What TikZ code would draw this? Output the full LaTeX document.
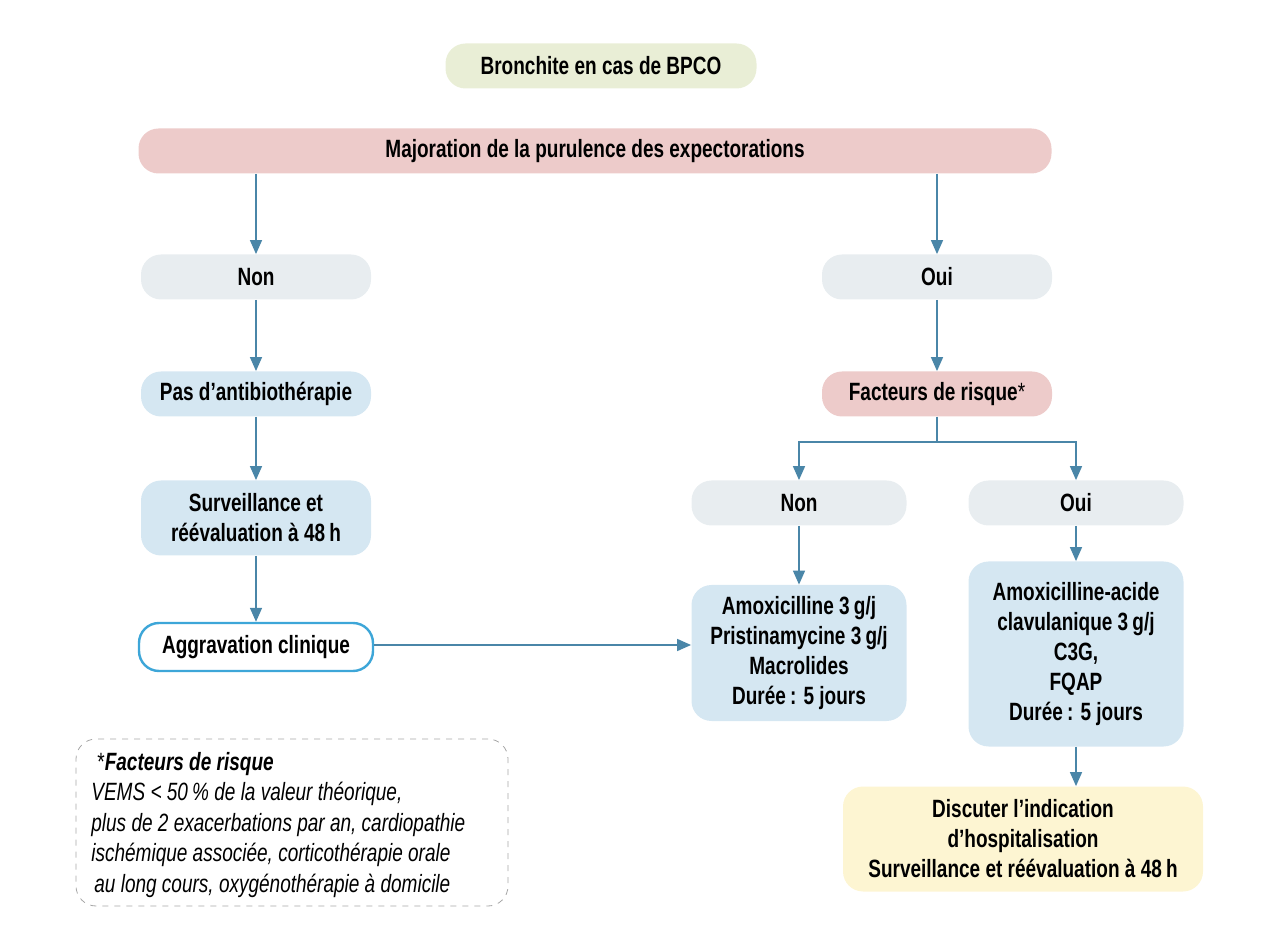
\documentclass[tikz,border=0pt]{standalone}
\usepackage{fontspec}
\setmainfont{Liberation Sans}[FakeStretch=0.76]
\usepackage{tikz}
\usetikzlibrary{arrows.meta,positioning}

\definecolor{flecheC}{HTML}{4A86A8}
\definecolor{vertC}{HTML}{E9EED6}
\definecolor{roseC}{HTML}{EDCBCA}
\definecolor{grisC}{HTML}{E8EDF0}
\definecolor{bleuC}{HTML}{D5E7F2}
\definecolor{jauneC}{HTML}{FDF5D2}
\definecolor{bordC}{HTML}{3DA6D8}

\begin{document}
\begin{tikzpicture}[x=0.5pt,y=-0.5pt,on grid,
    >={Triangle[length=7pt,width=6pt]},
    boite/.style={rounded corners=10pt,align=center,font=\bfseries\fontsize{12.5}{15}\selectfont,
                  minimum height=22.5pt,inner sep=0pt},
    titre/.style={boite,fill=vertC,minimum width=155.5pt},
    rose/.style={boite,fill=roseC},
    gris/.style={boite,fill=grisC},
    bleu/.style={boite,fill=bleuC},
    alerte/.style={boite,fill=white,draw=bordC,line width=1.2pt,minimum width=117pt,minimum height=24pt},
    fleche/.style={->,draw=flecheC,line width=0.75pt}]
  \useasboundingbox (0,0) rectangle (1280,951);

  \node[titre] (titre) at (601,66) {Bronchite en cas de BPCO};
  \node[rose,minimum width=456.5pt] (major) at (595,151) {Majoration de la purulence des expectorations};

  % branche gauche
  \node[gris,minimum width=115pt] (nonG) at (256,277) {Non};
  \node[bleu,minimum width=115pt] (pasatb) [below=58.5pt of nonG] {Pas d’antibiothérapie};
  \node[bleu,minimum width=115pt,minimum height=37.5pt] (surv) [below=62pt of pasatb] {Surveillance et\\réévaluation à 48\,h};
  \node[alerte] (aggrav) [below=64.5pt of surv] {Aggravation clinique};

  % branche droite
  \node[gris,minimum width=115pt] (ouiD) at (937,277) {Oui};
  \node[rose,minimum width=115pt] (facteurs) [below=58.5pt of ouiD] {Facteurs de risque{\mdseries*}};
  \node[gris,minimum width=107.5pt] (nonF) at (799,503) {Non};
  \node[gris,minimum width=107.5pt] (ouiF) at (1076,503) {Oui};
  \node[bleu,minimum width=107.5pt,minimum height=68pt] (amox) [below=75pt of nonF]
    {Amoxicilline 3\,g/j\\Pristinamycine 3\,g/j\\Macrolides\\Durée\,: 5 jours};
  \node[bleu,minimum width=107.5pt,minimum height=92.5pt] (amoxac) [below=75.5pt of ouiF]
    {Amoxicilline-acide\\clavulanique 3\,g/j\\C3G,\\FQAP\\Durée\,: 5 jours};
  \node[boite,fill=jauneC,minimum width=180pt,minimum height=52.5pt] (hospit) at (1023,839)
    {Discuter l’indication\\d’hospitalisation\\Surveillance et réévaluation à 48\,h};

  % note
  \node[draw=gray!70,dashed,rounded corners=10pt,minimum width=216pt,minimum height=83.5pt] (note) at (292,822.5) {};
  \node[anchor=west,align=left,font=\itshape\fontsize{12.5}{15.25}\selectfont,inner sep=0pt] (notetxt) at (91,825)
    {\hspace{3pt}{\upshape*}\textbf{Facteurs de risque}\\
     VEMS < 50\,\% de la valeur théorique,\\
     plus de 2 exacerbations par an, cardiopathie\\
     ischémique associée, corticothérapie orale\\
     \hspace{1.5pt}au long cours, oxygénothérapie à domicile};

  \draw[fleche] (major.south -| nonG) -- (nonG);
  \draw[fleche] (major.south -| ouiD) -- (ouiD);
  \draw[fleche] (nonG) -- (pasatb);
  \draw[fleche] (pasatb) -- (surv);
  \draw[fleche] (surv) -- (aggrav);
  \draw[fleche] (ouiD) -- (facteurs);
  \draw[fleche] (facteurs.south) -- ++(0,25) -| (nonF.north);
  \draw[fleche] (facteurs.south) -- ++(0,25) -| (ouiF.north);
  \draw[fleche] (nonF) -- (amox);
  \draw[fleche] (ouiF) -- (amoxac);
  \draw[fleche] (amoxac) -- (hospit.north -| amoxac);
  \draw[fleche] ([yshift=1pt]aggrav.east) -- ([yshift=1pt]aggrav.east -| amox.west);
\end{tikzpicture}
\end{document}
